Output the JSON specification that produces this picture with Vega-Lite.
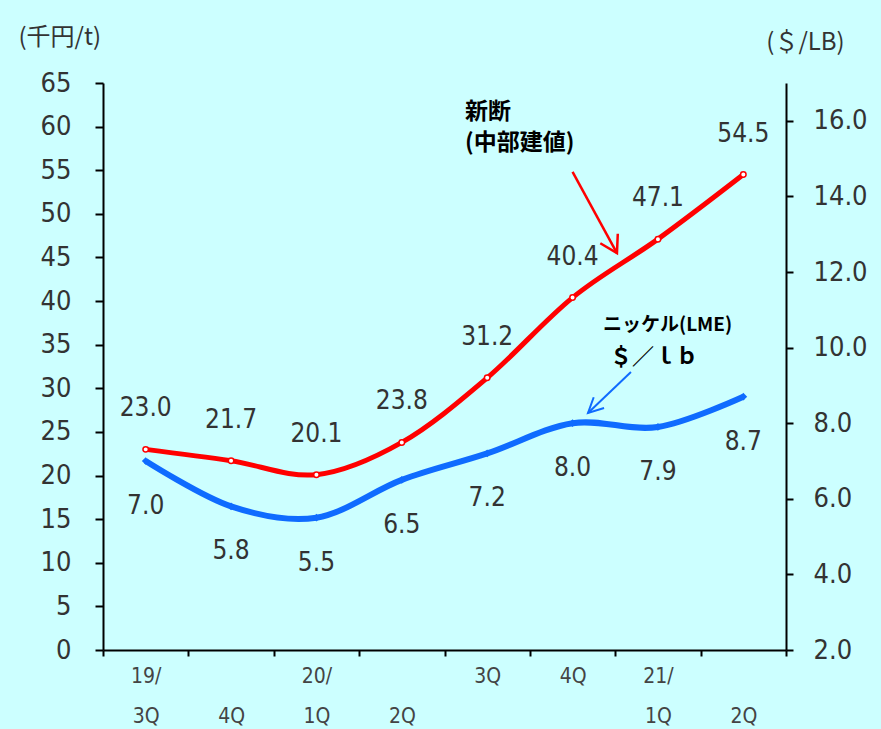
{
  "$schema": "https://vega.github.io/schema/vega-lite/v6.json",
  "width": 683,
  "height": 567,
  "autosize": {"type": "none"},
  "padding": {"left": 103, "top": 83, "right": 95, "bottom": 79},
  "background": "#CCFFFF",
  "config": {
    "view": {"stroke": null},
    "font": "DejaVu Sans Condensed, Liberation Sans, sans-serif",
    "axis": {
      "domainColor": "#000000",
      "domainWidth": 2,
      "tickColor": "#000000",
      "tickWidth": 2,
      "grid": false,
      "labelFont": "DejaVu Sans Condensed, Liberation Sans, sans-serif",
      "labelColor": "#333333"
    }
  },
  "datasets": {
    "main": [
      {"i": 0, "q": "19/3Q", "scrap": 23.0, "nickel": 7.0},
      {"i": 1, "q": "19/4Q", "scrap": 21.7, "nickel": 5.8},
      {"i": 2, "q": "20/1Q", "scrap": 20.1, "nickel": 5.5},
      {"i": 3, "q": "20/2Q", "scrap": 23.8, "nickel": 6.5},
      {"i": 4, "q": "20/3Q", "scrap": 31.2, "nickel": 7.2},
      {"i": 5, "q": "20/4Q", "scrap": 40.4, "nickel": 8.0},
      {"i": 6, "q": "21/1Q", "scrap": 47.1, "nickel": 7.9},
      {"i": 7, "q": "21/2Q", "scrap": 54.5, "nickel": 8.7}
    ],
    "arrows": [
      {"arrow": "red", "part": "tail", "x": 5.0, "y": 54.8},
      {"arrow": "red", "part": "tip", "x": 5.52, "y": 45.5},
      {"arrow": "blue", "part": "tail", "x": 5.684, "y": 31.87},
      {"arrow": "blue", "part": "tip", "x": 5.181, "y": 27.17}
    ],
    "notes": [
      {"note": "red", "x": 3.74, "y": 61.7, "text": "新断"},
      {"note": "red", "x": 3.74, "y": 58.1, "text": "(中部建値)"},
      {"note": "blue1", "x": 5.356, "y": 37.26, "text": "ニッケル(LME)"},
      {"note": "blue2", "x": 5.438, "y": 33.59, "text": "＄／ｌｂ"}
    ]
  },
  "layer": [
    {
      "layer": [
        {
          "data": {"name": "main"},
          "mark": {"type": "line", "interpolate": "cardinal", "color": "#FF0000", "strokeWidth": 5},
          "encoding": {
            "x": {
              "field": "i", "type": "quantitative",
              "scale": {"domain": [-0.5, 7.5], "nice": false, "zero": false},
              "axis": {
                "values": [-0.5, 0.5, 1.5, 2.5, 3.5, 4.5, 5.5, 6.5, 7.5],
                "labelOffset": 42.7,
                "labelExpr": "datum.value < 0 ? ['19/','3Q'] : datum.value < 1 ? [' ','4Q'] : datum.value < 2 ? ['20/','1Q'] : datum.value < 3 ? [' ','2Q'] : datum.value < 4 ? ['3Q',' '] : datum.value < 5 ? ['4Q',' '] : datum.value < 6 ? ['21/','1Q'] : datum.value < 7 ? [' ','2Q'] : ''",
                "tickSize": 6,
                "labelPadding": 9,
                "labelFontSize": 21,
                "labelLineHeight": 40,
                "labelBaseline": "top",
                "labelAlign": "center",
                "labelColor": "#444444",
                "labelOverlap": false,
                "labelFlush": false,
                "labelBound": false,
                "title": ""
              }
            },
            "y": {
              "field": "scrap", "type": "quantitative",
              "scale": {"domain": [0, 65], "nice": false},
              "axis": {
                "values": [0, 5, 10, 15, 20, 25, 30, 35, 40, 45, 50, 55, 60, 65],
                "tickSize": 8,
                "labelPadding": 24,
                "labelFontSize": 27,
                "title": "(千円/t)",
                "titleAngle": 0,
                "titleX": -85,
                "titleY": -46,
                "titleAlign": "left",
                "titleBaseline": "middle",
                "titleFont": "Noto Sans CJK JP",
                "titleFontSize": 24,
                "titleFontWeight": "normal",
                "titleColor": "#333333"
              }
            }
          }
        },
        {
          "data": {"name": "main"},
          "mark": {"type": "point", "shape": "circle", "filled": true, "fill": "#FFFFFF", "stroke": "#FF0000", "strokeWidth": 1.5, "size": 30, "opacity": 1},
          "encoding": {
            "x": {"field": "i", "type": "quantitative"},
            "y": {"field": "scrap", "type": "quantitative"}
          }
        },
        {
          "data": {"name": "main"},
          "mark": {"type": "text", "dy": -41, "fontSize": 26, "color": "#333333", "baseline": "middle"},
          "encoding": {
            "x": {"field": "i", "type": "quantitative"},
            "y": {"field": "scrap", "type": "quantitative"},
            "text": {"field": "scrap", "type": "quantitative", "format": ".1f"}
          }
        },
        {
          "data": {"name": "arrows"},
          "transform": [{"filter": "datum.arrow == 'red'"}],
          "mark": {"type": "line", "color": "#FF0000", "strokeWidth": 2.5},
          "encoding": {
            "x": {"field": "x", "type": "quantitative"},
            "y": {"field": "y", "type": "quantitative"}
          }
        },
        {
          "data": {"name": "arrows"},
          "transform": [{"filter": "datum.arrow == 'red' && datum.part == 'tip'"}],
          "mark": {"type": "point", "shape": "M -0.6 -1 L 0 0 L 0.6 -1", "filled": false, "stroke": "#FF0000", "strokeWidth": 2.5, "size": 1100, "angle": 331.5, "opacity": 1},
          "encoding": {
            "x": {"field": "x", "type": "quantitative"},
            "y": {"field": "y", "type": "quantitative"}
          }
        },
        {
          "data": {"name": "arrows"},
          "transform": [{"filter": "datum.arrow == 'blue'"}],
          "mark": {"type": "line", "color": "#0F6BFF", "strokeWidth": 2},
          "encoding": {
            "x": {"field": "x", "type": "quantitative"},
            "y": {"field": "y", "type": "quantitative"}
          }
        },
        {
          "data": {"name": "arrows"},
          "transform": [{"filter": "datum.arrow == 'blue' && datum.part == 'tip'"}],
          "mark": {"type": "point", "shape": "M -0.5 -1 L 0 0 L 0.5 -1", "filled": false, "stroke": "#0F6BFF", "strokeWidth": 2, "size": 900, "angle": 46.4, "opacity": 1},
          "encoding": {
            "x": {"field": "x", "type": "quantitative"},
            "y": {"field": "y", "type": "quantitative"}
          }
        },
        {
          "data": {"name": "notes"},
          "transform": [{"filter": "datum.note == 'red'"}],
          "mark": {"type": "text", "align": "left", "baseline": "middle", "font": "Noto Sans CJK JP", "fontWeight": "bold", "fontSize": 23, "color": "#000000"},
          "encoding": {
            "x": {"field": "x", "type": "quantitative"},
            "y": {"field": "y", "type": "quantitative"},
            "text": {"field": "text"}
          }
        },
        {
          "data": {"name": "notes"},
          "transform": [{"filter": "datum.note == 'blue1'"}],
          "mark": {"type": "text", "align": "left", "baseline": "middle", "font": "Noto Sans CJK JP", "fontWeight": "bold", "fontSize": 19, "color": "#000000"},
          "encoding": {
            "x": {"field": "x", "type": "quantitative"},
            "y": {"field": "y", "type": "quantitative"},
            "text": {"field": "text"}
          }
        },
        {
          "data": {"name": "notes"},
          "transform": [{"filter": "datum.note == 'blue2'"}],
          "mark": {"type": "text", "align": "left", "baseline": "middle", "font": "Noto Sans CJK JP", "fontWeight": "bold", "fontSize": 22, "color": "#000000"},
          "encoding": {
            "x": {"field": "x", "type": "quantitative"},
            "y": {"field": "y", "type": "quantitative"},
            "text": {"field": "text"}
          }
        }
      ]
    },
    {
      "layer": [
        {
          "data": {"name": "main"},
          "mark": {"type": "line", "interpolate": "cardinal", "color": "#0F6BFF", "strokeWidth": 6},
          "encoding": {
            "x": {"field": "i", "type": "quantitative"},
            "y": {
              "field": "nickel", "type": "quantitative",
              "scale": {"domain": [2, 17], "nice": false, "zero": false},
              "axis": {
                "orient": "right",
                "values": [2, 4, 6, 8, 10, 12, 14, 16],
                "format": ".1f",
                "tickSize": 7,
                "labelPadding": 20,
                "labelFontSize": 27,
                "title": "(＄/LB)",
                "titleAngle": 0,
                "titleX": 19,
                "titleY": -41,
                "titleAlign": "center",
                "titleBaseline": "middle",
                "titleFont": "Noto Sans CJK JP",
                "titleFontSize": 24,
                "titleFontWeight": "normal",
                "titleColor": "#333333"
              }
            }
          }
        },
        {
          "data": {"name": "main"},
          "mark": {"type": "point", "shape": "diamond", "filled": true, "color": "#0F6BFF", "size": 60, "opacity": 1},
          "encoding": {
            "x": {"field": "i", "type": "quantitative"},
            "y": {"field": "nickel", "type": "quantitative"}
          }
        },
        {
          "data": {"name": "main"},
          "mark": {"type": "text", "dy": 45, "fontSize": 26, "color": "#333333", "baseline": "middle"},
          "encoding": {
            "x": {"field": "i", "type": "quantitative"},
            "y": {"field": "nickel", "type": "quantitative"},
            "text": {"field": "nickel", "type": "quantitative", "format": ".1f"}
          }
        }
      ]
    }
  ],
  "resolve": {"scale": {"y": "independent"}}
}
